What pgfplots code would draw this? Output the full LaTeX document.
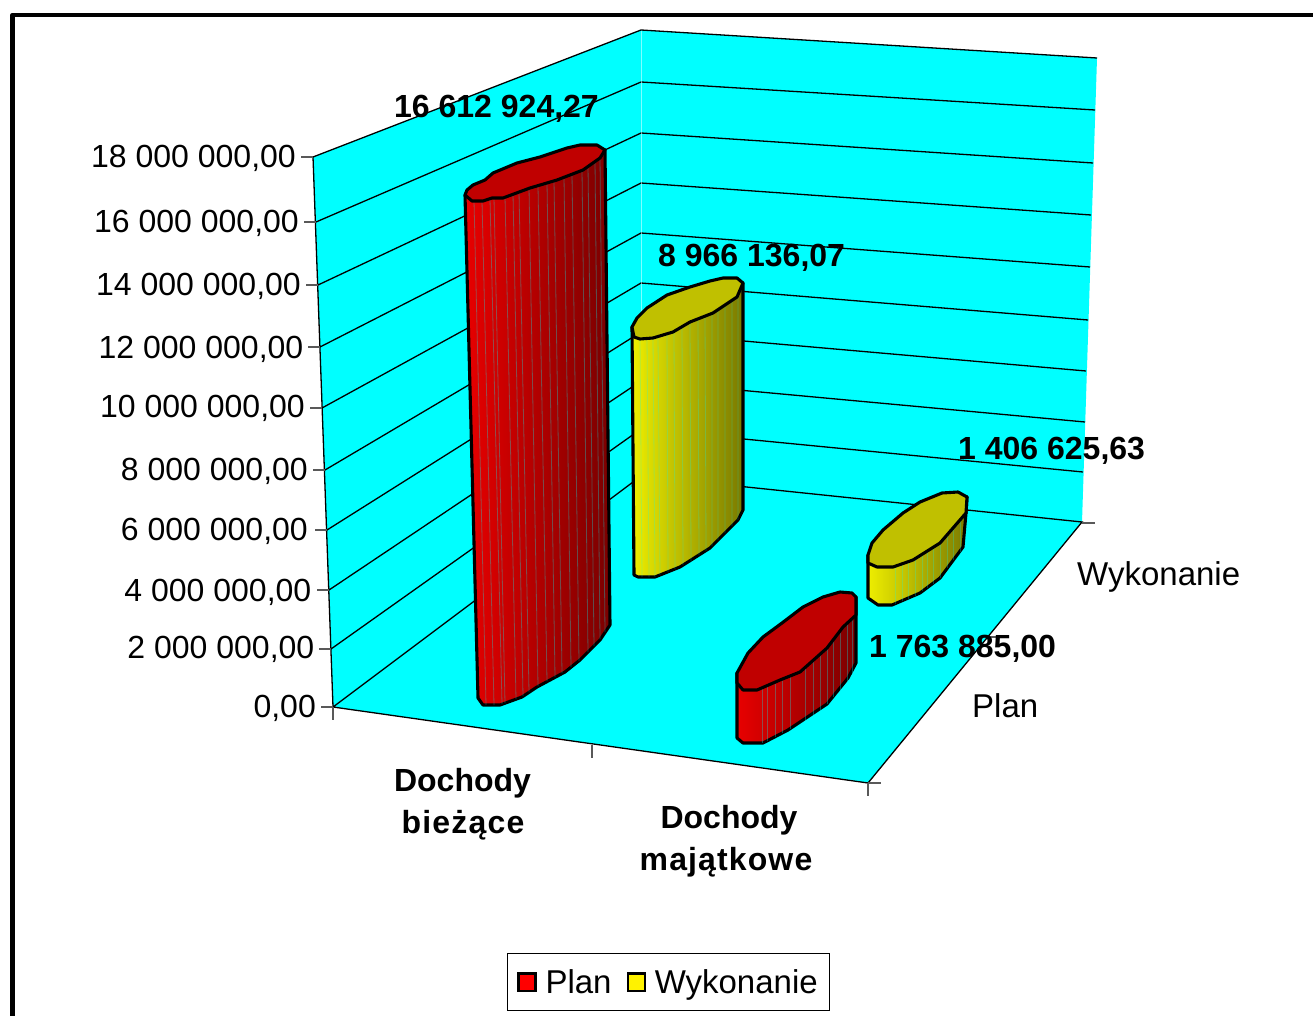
\documentclass[border=0pt]{standalone}
\usepackage{fontspec}
\setmainfont{Liberation Sans}
\usepackage{pgfplots}
\pgfplotsset{compat=1.18}
\definecolor{wall}{RGB}{0,255,255}
\definecolor{redtop}{RGB}{192,0,0}
\definecolor{redL}{RGB}{232,0,0}
\definecolor{redR}{RGB}{122,0,0}
\definecolor{yeltop}{RGB}{192,192,0}
\definecolor{yelL}{RGB}{238,238,0}
\definecolor{yelR}{RGB}{122,122,0}
\newcommand\T{\fontsize{32}{42}\selectfont}
\newcommand\Tb{\fontsize{33}{42}\selectfont}
\newcommand\B{\fontsize{32}{42}\selectfont\bfseries}
\tikzset{val/.style={anchor=base west,inner sep=0pt,text=black},
  tk/.style={anchor=base east,inner sep=0pt,text=black},
  cat/.style={anchor=base,inner sep=0pt,text=black}}
\pgfplotsset{
  body/.style={draw=black,line width=3.1pt,line join=round},
  facet/.style={draw=wall,line width=0.8pt,draw opacity=0.24,unbounded coords=jump},
  grid/.style={draw=black,line width=1.3pt,unbounded coords=jump},
  tick/.style={draw=black!65,line width=1.2pt,unbounded coords=jump}
}
\begin{document}
\begin{tikzpicture}
\path[use as bounding box] (0,0) rectangle (1313pt,1016pt);
\begin{axis}[
  at={(0,0)},anchor=south west,
  scale only axis,width=1313pt,height=1016pt,
  xmin=0,xmax=1313,ymin=0,ymax=1016,y dir=reverse,
  hide axis,
  legend columns=2,
  legend style={at={(axis cs:668.5,982)},anchor=center,draw=black,line width=1.2pt,
    font=\Tb,inner xsep=10pt,inner ysep=13.5pt,
    /tikz/column 1/.style={column sep=7pt},
    /tikz/column 3/.style={column sep=7pt},
    /tikz/every even column/.append style={column sep=13pt},
    /tikz/column 4/.style={column sep=0pt}},
  legend cell align=left,
]
% frame
\addplot[forget plot,draw=black,line width=4.6pt,line join=round] coordinates {(12.5,1030) (12.5,15) (1330,15)};
% walls and floor
\addplot[forget plot,fill=wall,draw=none] coordinates {(313,157) (641,30) (1097,58) (1082,522) (868,783) (333,707)} -- cycle;
% grid lines
\addplot[forget plot,grid] coordinates {
 (313,157) (641,30) (1097,58) (nan,nan)
 (316,222) (641,82) (1095,110) (nan,nan)
 (318,285) (641,133) (1093,163) (nan,nan)
 (320,347) (641,183) (1091,215) (nan,nan)
 (322,408) (641,233) (1090,267) (nan,nan)
 (325,470) (641,283) (1088,320) (nan,nan)
 (327,530) (641,332) (1086,371) (nan,nan)
 (329,590) (641,381) (1085,422) (nan,nan)
 (331,649) (641,429) (1083,472) (nan,nan)
 (333,707) (641,476) (1082,522) (868,783) (333,707) (nan,nan)
 (313,157) (333,707)
};
\addplot[forget plot,draw=white,draw opacity=0.5,line width=0.8pt] coordinates {(641,31) (641,476)};
% ticks
\addplot[forget plot,tick] coordinates {
 (301,157) (313,157) (nan,nan) (304,222) (316,222) (nan,nan)
 (306,285) (318,285) (nan,nan) (308,347) (320,347) (nan,nan)
 (310,408) (322,408) (nan,nan) (313,470) (325,470) (nan,nan)
 (315,530) (327,530) (nan,nan) (317,590) (329,590) (nan,nan)
 (319,649) (331,649) (nan,nan) (321,707) (333,707) (nan,nan)
 (333,707) (333,720) (nan,nan) (592,745) (592,758) (nan,nan)
 (868,783) (868,796) (nan,nan) (868,783) (881,783) (nan,nan)
 (988,637) (1000,637) (nan,nan) (1082,523) (1095,523)
};
% Wykonanie, Dochody biezace: 8 966 136,07
\addplot[forget plot,body,left color=yelL,right color=yelR] coordinates {
 (632,327) (634,575) (638,577) (655,577) (680,567) (710,548) (738,520) (743,510) (743,283)
} -- cycle;
\addplot[forget plot,facet] coordinates {
 (640,339)(642,577)(nan,nan)(647,338)(649,577)(nan,nan)(653,338)(655,577)(nan,nan)
 (658,336)(660,575)(nan,nan)(667,334)(668,572)(nan,nan)(674,331)(675,569)(nan,nan)
 (682,327)(683,565)(nan,nan)(690,322)(691,561)(nan,nan)(698,319)(699,555)(nan,nan)
 (705,316)(706,551)(nan,nan)(712,313)(712,546)(nan,nan)(718,310)(718,540)(nan,nan)
 (725,305)(725,533)(nan,nan)(732,300)(732,526)(nan,nan)(738,296)(738,520)
};
\addplot[forget plot,body,fill=yeltop] coordinates {
 (632,327) (637,318) (647,308) (667,295) (690,287) (710,281) (723,278) (737,278) (743,283)
 (737,297) (713,313) (690,322) (673,332) (653,338) (640,339) (634,337)
} -- cycle;
% Plan, Dochody biezace: 16 612 924,27
\addplot[forget plot,body,left color=redL,right color=redR] coordinates {
 (465,195) (478,698) (483,705) (500,705) (522,697) (537,687) (565,672) (580,660) (600,640) (610,625) (605,150)
} -- cycle;
\addplot[forget plot,facet,draw opacity=0.3] coordinates {
 (474,201)(486,705)(nan,nan)(482,201)(494,705)(nan,nan)(490,199)(502,704)(nan,nan)
 (494,198)(505,703)(nan,nan)(505,197)(516,699)(nan,nan)(513,194)(523,696)(nan,nan)
 (519,192)(529,692)(nan,nan)(529,188)(538,686)(nan,nan)(538,186)(547,681)(nan,nan)
 (547,183)(555,677)(nan,nan)(554,181)(562,673)(nan,nan)(564,177)(571,667)(nan,nan)
 (572,174)(579,661)(nan,nan)(582,170)(588,652)(nan,nan)(588,166)(594,646)(nan,nan)
 (595,161)(600,639)(nan,nan)(600,158)(605,632)
};
\addplot[forget plot,body,fill=redtop] coordinates {
 (465,195) (467,190) (473,185) (485,180) (493,173) (517,163) (540,157) (567,148) (580,145) (597,145) (605,150)
 (600,158) (583,170) (557,180) (530,188) (503,198) (492,198) (483,201) (472,201)
} -- cycle;
% Wykonanie, Dochody majatkowe: 1 406 625,63
\addplot[forget plot,body,left color=yelL,right color=yelR] coordinates {
 (868,555) (868,598) (878,605) (892,605) (920,593) (940,578) (963,547) (966,513) (967,497)
} -- cycle;
\addplot[forget plot,facet] coordinates {
 (895,566)(895,604)(nan,nan)(902,563)(902,601)(nan,nan)(908,561)(908,599)(nan,nan)
 (915,557)(915,596)(nan,nan)(922,553)(922,591)(nan,nan)(927,550)(927,588)(nan,nan)
 (933,547)(933,584)(nan,nan)(940,543)(940,578)(nan,nan)(947,535)(947,568)(nan,nan)
 (953,528)(953,560)(nan,nan)(960,520)(960,552)
};
\addplot[forget plot,body,fill=yeltop] coordinates {
 (868,555) (872,543) (883,530) (903,513) (920,502) (942,493) (958,492) (967,497) (966,513)
 (953,528) (940,543) (913,560) (893,567) (877,567) (868,563)
} -- cycle;
% Plan, Dochody majatkowe: 1 763 885,00
\addplot[forget plot,body,left color=redL,right color=redR] coordinates {
 (737,673) (737,738) (743,743) (763,743) (788,730) (827,704) (848,678) (856,663) (856,597)
} -- cycle;
\addplot[forget plot,facet,draw opacity=0.3] coordinates {
 (762,689)(762,743)(nan,nan)(767,687)(767,741)(nan,nan)(775,684)(775,737)(nan,nan)
 (782,680)(782,733)(nan,nan)(790,676)(790,729)(nan,nan)(805,668)(805,721)(nan,nan)
 (813,660)(813,716)(nan,nan)(820,654)(820,711)(nan,nan)(827,648)(827,704)(nan,nan)
 (833,640)(833,697)(nan,nan)(840,632)(840,690)(nan,nan)(847,623)(847,681)(nan,nan)
 (852,618)(852,673)
};
\addplot[forget plot,body,fill=redtop] coordinates {
 (737,673) (748,653) (763,637) (782,623) (803,607) (823,597) (840,592) (852,593) (856,597) (856,615)
 (843,627) (827,648) (800,672) (780,680) (757,690) (743,690) (737,683)
} -- cycle;
% legend
\addlegendimage{legend image code/.code={\draw[fill=red,draw=black,line width=2.2pt] (0pt,-9pt) rectangle (17pt,8.5pt);}}
\addlegendentry{Plan}
\addlegendimage{legend image code/.code={\draw[fill=yellow,draw=black,line width=2.2pt] (0pt,-9pt) rectangle (17pt,8.5pt);}}
\addlegendentry{Wykonanie}
% value axis labels
\node[tk] at (axis cs:296,167.5) {\T 18 000 000,00};
\node[tk] at (axis cs:299,232.5) {\T 16 000 000,00};
\node[tk] at (axis cs:301,295.5) {\T 14 000 000,00};
\node[tk] at (axis cs:303.5,358.5) {\T 12 000 000,00};
\node[tk] at (axis cs:305,417.5) {\T 10 000 000,00};
\node[tk] at (axis cs:308,480.5) {\T 8 000 000,00};
\node[tk] at (axis cs:308,540.5) {\T 6 000 000,00};
\node[tk] at (axis cs:311.5,601.5) {\T 4 000 000,00};
\node[tk] at (axis cs:314.5,658.5) {\T 2 000 000,00};
\node[tk] at (axis cs:316,717.5) {\T 0,00};
% categories
\node[cat] at (axis cs:462.5,791) {\B Dochody};
\node[cat] at (axis cs:463,833) {\B\addfontfeature{LetterSpace=3.7} bieżące};
\node[cat] at (axis cs:729,828) {\B Dochody};
\node[cat] at (axis cs:726,870) {\B\addfontfeature{LetterSpace=3.5} majątkowe};
\node[val] at (axis cs:1077,585) {\Tb Wykonanie};
\node[val] at (axis cs:972,717) {\Tb Plan};
% values
\node[val] at (axis cs:394,118) {\B 16 612 924,27};
\node[val] at (axis cs:658,266) {\B 8 966 136,07};
\node[val] at (axis cs:958,459) {\B 1 406 625,63};
\node[val] at (axis cs:869,657) {\B 1 763 885,00};
\end{axis}
\end{tikzpicture}
\end{document}
